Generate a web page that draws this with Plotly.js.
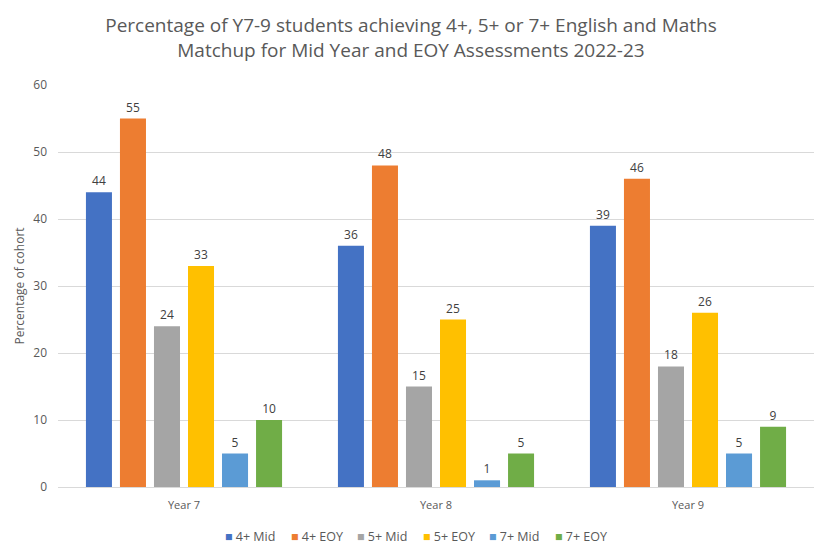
<!DOCTYPE html>
<html><head><meta charset="utf-8">
<script src="https://cdn.plot.ly/plotly-3.0.1.min.js"></script>
<style>html,body{margin:0;padding:0;background:#fff}</style>
</head><body><div id="chart" style="width:822px;height:551px"></div>
<script>
const categories = ["Year 7", "Year 8", "Year 9"];
const seriesNames = ["4+ Mid", "4+ EOY", "5+ Mid", "5+ EOY", "7+ Mid", "7+ EOY"];
const mid4 = [44, 36, 39];
const eoy4 = [55, 48, 46];
const mid5 = [24, 15, 18];
const eoy5 = [33, 25, 26];
const mid7 = [5, 1, 5];
const eoy7 = [10, 5, 9];
const yTicks = [0, 10, 20, 30, 40, 50, 60];

const seriesValues = [mid4, eoy4, mid5, eoy5, mid7, eoy7];
const colors = ["#4472C4", "#ED7D31", "#A5A5A5", "#FFC000", "#5B9BD5", "#70AD47"];
const FONT = "Open Sans, Calibri, sans-serif";

const traces = seriesNames.map((n, i) => ({
  type: "bar", name: n, x: categories, y: seriesValues[i],
  marker: {color: colors[i]},
  text: seriesValues[i].map(String), textposition: "outside",
  textfont: {family: FONT, size: 12, color: "#404040"},
  cliponaxis: false, showlegend: false
}));

// Legend drawn as a row of annotations (compact Excel-style spacing)
const legendX0 = 223, legendPitch = 66;
const annotations = seriesNames.map((n, i) => ({
  xref: "paper", yref: "paper",
  x: (legendX0 + i * legendPitch - 58) / 756, y: -(536 - 487) / 402,
  xanchor: "left", yanchor: "middle", showarrow: false,
  text: `<span style="color:${colors[i]}">■</span> ${n}`,
  font: {family: FONT, size: 12.5, color: "#595959"}
}));

const layout = {
  width: 822, height: 551,
  margin: {l: 58, r: 8, t: 85, b: 64},
  paper_bgcolor: "#fff", plot_bgcolor: "#fff",
  barmode: "group", bargap: 0.19, bargroupgap: 0.235,
  title: {text: "Percentage of Y7-9 students achieving 4+, 5+ or 7+ English and Maths<br>Matchup for Mid Year and EOY Assessments 2022-23",
    font: {family: FONT, size: 19, color: "#595959"}, x: 0.5, xanchor: "center",
    yref: "container", y: 1 - 32 / 551, yanchor: "middle"},
  xaxis: {tickfont: {family: FONT, size: 11, color: "#595959"}, showline: true, linecolor: "#d9d9d9",
    ticks: "", showgrid: false, ticklabelstandoff: 8, automargin: false},
  yaxis: {range: [0, 60], tickvals: yTicks, tickfont: {family: FONT, size: 12, color: "#595959"},
    gridcolor: "#d9d9d9", zeroline: false, ticks: "", ticklabelstandoff: 10, automargin: false,
    title: {text: "Percentage of cohort", font: {family: FONT, size: 12, color: "#595959"}, standoff: 6}},
  annotations: annotations,
  showlegend: false
};
Plotly.newPlot("chart", traces, layout, {displayModeBar: false, staticPlot: true});
</script></body></html>
